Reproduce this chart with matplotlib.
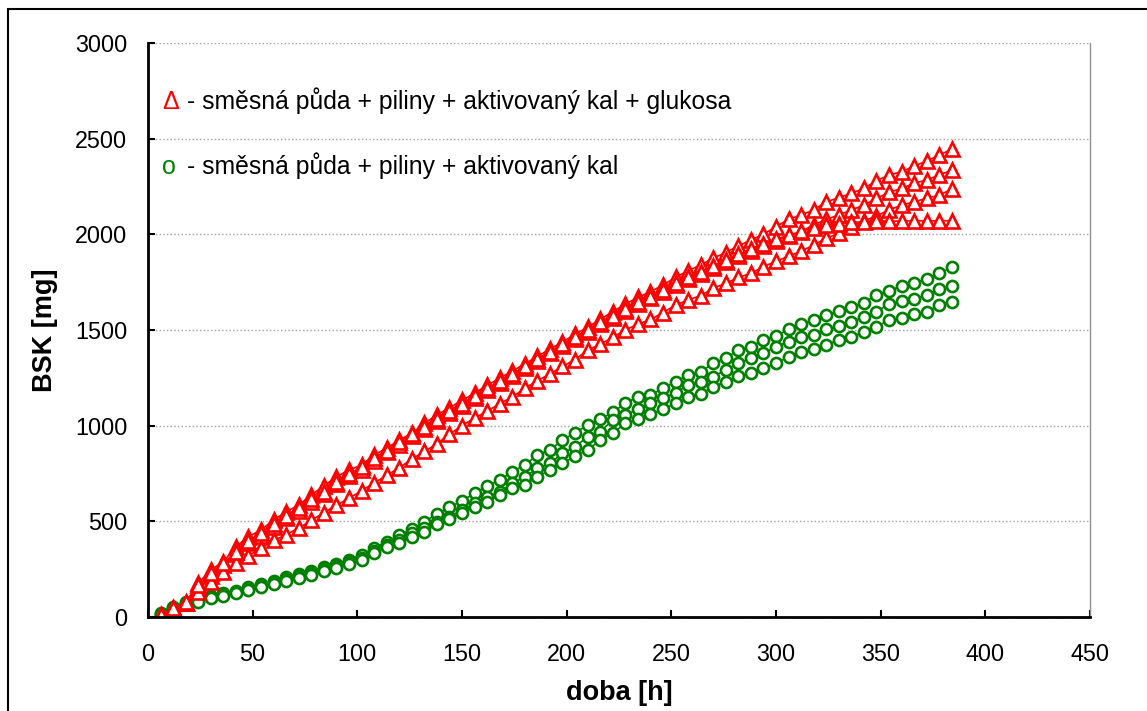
import matplotlib
matplotlib.use("Agg")
import matplotlib.pyplot as plt
from matplotlib.patches import Rectangle

plt.rcParams['font.family'] = ['Liberation Sans', 'DejaVu Sans']

#%% data (doba [h], BSK [mg])
doba = [6, 12, 18, 24, 30, 36, 42, 48, 54, 60,
        66, 72, 78, 84, 90, 96, 102, 108, 114, 120,
        126, 132, 138, 144, 150, 156, 162, 168, 174, 180,
        186, 192, 198, 204, 210, 216, 222, 228, 234, 240,
        246, 252, 258, 264, 270, 276, 282, 288, 294, 300,
        306, 312, 318, 324, 330, 336, 342, 348, 354, 360,
        366, 372, 378, 384]

# smesna puda + piliny + aktivovany kal + glukosa (4 opakovani)
glukosa1 = [10, 45, 75, 176, 246, 289, 367, 420, 455, 507,
            550, 585, 638, 685, 733, 768, 794, 847, 882, 925,
            960, 1012, 1056, 1094, 1132, 1170, 1210, 1248, 1285, 1323,
            1362, 1400, 1438, 1477, 1515, 1555, 1596, 1635, 1670, 1700,
            1735, 1775, 1810, 1840, 1875, 1905, 1940, 1970, 2000, 2040,
            2078, 2101, 2127, 2170, 2191, 2214, 2240, 2280, 2310, 2327,
            2357, 2383, 2414, 2446]
glukosa2 = [10, 45, 75, 150, 215, 270, 330, 385, 425, 470,
            515, 555, 600, 645, 695, 735, 770, 815, 860, 900,
            945, 985, 1025, 1065, 1105, 1145, 1185, 1225, 1262, 1300,
            1340, 1378, 1415, 1455, 1490, 1530, 1565, 1600, 1635, 1665,
            1700, 1735, 1765, 1795, 1825, 1855, 1885, 1915, 1940, 1965,
            1990, 2014, 2050, 2078, 2101, 2127, 2153, 2188, 2219, 2240,
            2267, 2284, 2310, 2336]
glukosa3 = [10, 45, 72, 130, 185, 235, 280, 320, 360, 400,
            430, 465, 505, 545, 585, 620, 660, 700, 740, 780,
            825, 865, 905, 955, 1000, 1040, 1075, 1115, 1150, 1195,
            1235, 1270, 1310, 1345, 1395, 1425, 1462, 1500, 1530, 1555,
            1590, 1630, 1657, 1680, 1718, 1744, 1775, 1796, 1830, 1860,
            1885, 1912, 1944, 1980, 2005, 2040, 2070, 2096, 2127, 2153,
            2170, 2188, 2205, 2237]
glukosa4 = [10, 45, 78, 165, 228, 280, 340, 395, 440, 485,
            530, 570, 615, 655, 705, 745, 785, 830, 870, 915,
            955, 995, 1035, 1075, 1115, 1155, 1195, 1232, 1270, 1310,
            1350, 1385, 1425, 1465, 1500, 1540, 1575, 1610, 1645, 1675,
            1710, 1745, 1775, 1805, 1835, 1865, 1895, 1925, 1950, 1975,
            1995, 2015, 2035, 2048, 2056, 2062, 2066, 2068, 2070, 2069,
            2071, 2070, 2071, 2071]

# smesna puda + piliny + aktivovany kal (3 opakovani)
kal1 = [22, 50, 78, 92, 110, 127, 138, 158, 172, 186,
        210, 225, 240, 263, 278, 300, 325, 360, 394, 428,
        458, 498, 538, 573, 608, 646, 685, 716, 759, 794,
        847, 873, 925, 963, 1003, 1033, 1070, 1117, 1151, 1160,
        1195, 1230, 1265, 1282, 1326, 1352, 1395, 1413, 1448, 1469,
        1503, 1531, 1552, 1578, 1600, 1620, 1643, 1683, 1705, 1730,
        1747, 1765, 1796, 1827]
kal2 = [18, 45, 72, 85, 102, 118, 130, 148, 162, 176,
        198, 212, 228, 250, 265, 286, 310, 345, 376, 402,
        437, 464, 498, 524, 559, 594, 629, 655, 699, 733,
        777, 803, 855, 890, 942, 968, 1030, 1056, 1085, 1117,
        1143, 1172, 1212, 1230, 1256, 1291, 1326, 1352, 1378, 1413,
        1439, 1462, 1474, 1503, 1521, 1543, 1569, 1596, 1636, 1653,
        1660, 1683, 1713, 1730]
kal3 = [15, 40, 68, 80, 98, 112, 125, 142, 156, 170,
        190, 205, 220, 240, 256, 278, 300, 335, 367, 385,
        420, 446, 486, 510, 545, 576, 603, 638, 673, 690,
        733, 768, 803, 841, 873, 925, 960, 1012, 1033, 1061,
        1085, 1117, 1151, 1165, 1204, 1230, 1259, 1274, 1300, 1326,
        1360, 1386, 1399, 1421, 1448, 1462, 1491, 1517, 1552, 1561,
        1583, 1596, 1631, 1648]

xTicks = [0, 50, 100, 150, 200, 250, 300, 350, 400, 450]
yTicks = [0, 500, 1000, 1500, 2000, 2500, 3000]

W, H = 1147, 711
fig = plt.figure(figsize=(W / 100, H / 100), dpi=100)
ax = fig.add_axes([148 / W, 1 - 617 / H, (1090 - 148) / W, (617 - 43) / H])

# circles first, triangles sit on top of them
for serie in [kal1, kal2, kal3]:
    ax.plot(doba, serie, color='green', lw=1.2, marker='o', markersize=8,
            markerfacecolor='white', markeredgecolor='green', markeredgewidth=1.9)
for serie in [glukosa1, glukosa2, glukosa3, glukosa4]:
    ax.plot(doba, serie, color='red', lw=1.2, marker='^', markersize=10,
            markerfacecolor='white', markeredgecolor='red', markeredgewidth=1.9)

ax.set_xlim(0, 450)
ax.set_ylim(0, 3000)
ax.set_xticks(xTicks)
ax.set_yticks(yTicks)
ax.tick_params(direction='in', length=5, width=1.5, labelsize=16.8)
ax.tick_params(axis='x', pad=19)
ax.tick_params(axis='y', pad=15)
ax.yaxis.grid(True, color='#a0a0a0', linestyle=':', lw=1)
ax.set_axisbelow(True)

ax.spines['left'].set_linewidth(2)
ax.spines['bottom'].set_linewidth(2)
ax.spines['top'].set_visible(False)
ax.spines['right'].set_color('#909090')
ax.spines['right'].set_linewidth(1)

ax.set_xlabel("doba [h]", fontsize=19.5, fontweight='bold', labelpad=10)
ax.set_ylabel("BSK [mg]", fontsize=19.5, fontweight='bold', labelpad=12)

# legend made of plain text lines
fig.text(162 / W, 1 - 109 / H, "Δ", color='red', fontsize=18)
fig.text(187 / W, 1 - 109 / H, "- směsná půda + piliny + aktivovaný kal + glukosa",
         color='black', fontsize=17.8)
fig.text(162 / W, 1 - 174 / H, "o", color='green', fontsize=18)
fig.text(187 / W, 1 - 174 / H, "- směsná půda + piliny + aktivovaný kal",
         color='black', fontsize=17.8)

# outer chart frame
fig.patches.append(Rectangle((8 / W, -0.05), 1.2, 1.05 - 9 / H,
                             transform=fig.transFigure, fill=False,
                             edgecolor='black', lw=1.5))

fig.savefig("out.png", dpi=100)
